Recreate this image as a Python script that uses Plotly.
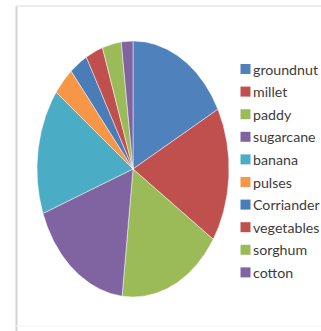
import numpy as np
import plotly.graph_objects as go

categories = ["groundnut", "millet", "paddy", "sugarcane", "banana", "pulses",
              "Corriander", "vegetables", "sorghum", "cotton"]
values = [62, 61, 63, 63, 57, 13, 11, 10.5, 11.5, 7]
colors = ["#4F81BD", "#C0504D", "#9BBB59", "#8064A2", "#4BACC6", "#F79646",
          "#4A7CB8", "#C0504D", "#9BBB59", "#8064A2"]

W, H = 321, 331
cx, cy, rx, ry = 133, 169, 96, 128

fig = go.Figure()
total = float(sum(values))
start = 0.0
for name, v, c in zip(categories, values, colors):
    a0 = start / total * 2 * np.pi
    a1 = (start + v) / total * 2 * np.pi
    t = np.linspace(a0, a1, max(8, int(v * 2)))
    xs = np.concatenate([[cx], cx + rx * np.sin(t), [cx]])
    ys = np.concatenate([[cy], cy - ry * np.cos(t), [cy]])
    fig.add_trace(go.Scatter(x=xs, y=ys, mode="lines", fill="toself",
                             fillcolor=c, line=dict(color="rgba(255,255,255,0.6)", width=0.8),
                             name=name, showlegend=False, hoverinfo="name"))
    start += v

# legend
lx, ly0, dy = 245.5, 69, 22.6
for i, (name, c) in enumerate(zip(categories, colors)):
    y = ly0 + i * dy
    fig.add_shape(type="rect", x0=lx - 5, x1=lx + 5, y0=y - 5, y1=y + 5,
                  fillcolor=c, line=dict(width=0), xref="x", yref="y")
    fig.add_annotation(x=lx + 5, y=y, text=name, showarrow=False, xanchor="left",
                       yanchor="middle", font=dict(family="Lato", size=14.2, color="#3c3c3c"))

# frame lines
fig.add_shape(type="line", x0=16.5, x1=16.5, y0=6, y1=H, line=dict(color="#d4d4d4", width=2))
fig.add_shape(type="line", x0=16, x1=W, y0=6, y1=6, line=dict(color="#ececec", width=2))
fig.add_shape(type="line", x0=16, x1=W, y0=326, y1=326, line=dict(color="#f3f3f3", width=1))

fig.update_layout(width=W, height=H, margin=dict(l=0, r=0, t=0, b=0),
                  paper_bgcolor="white", plot_bgcolor="white", showlegend=False,
                  xaxis=dict(range=[0, W], visible=False, fixedrange=True),
                  yaxis=dict(range=[H, 0], visible=False, fixedrange=True))
fig.write_html("out.html")
